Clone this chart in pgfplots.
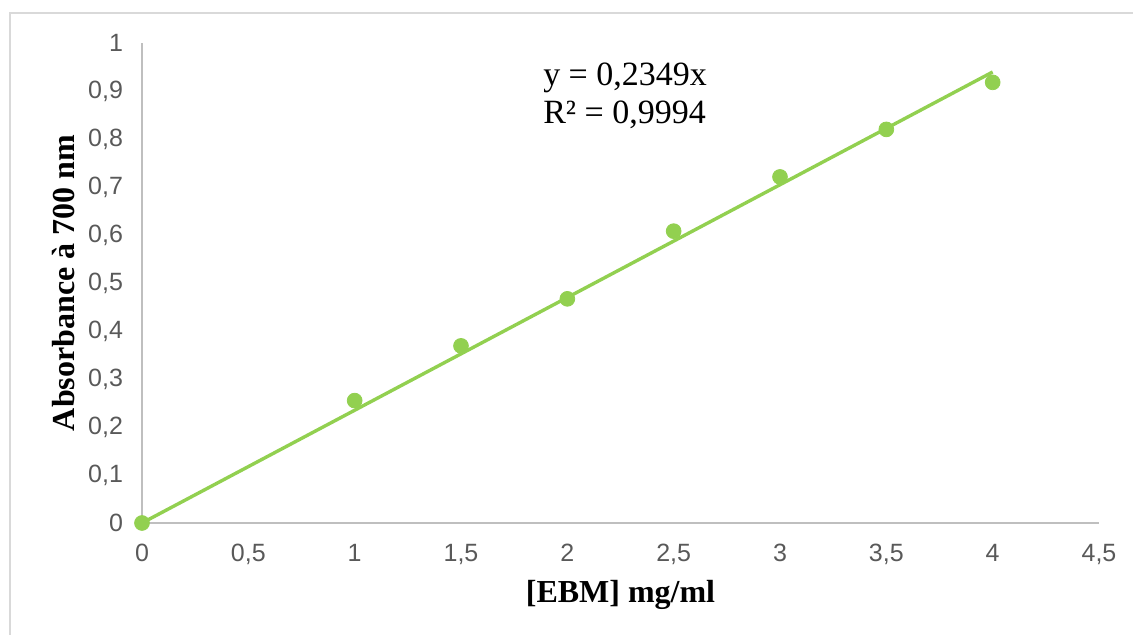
\documentclass[border=0pt]{standalone}
\usepackage{fontspec}
\setmainfont{Liberation Serif}
\newfontfamily\ticksfont{Liberation Sans}
\usepackage{pgfplots}
\pgfplotsset{compat=1.18}
\definecolor{xlgreen}{RGB}{146,208,80}
\definecolor{axgray}{RGB}{191,191,191}
\definecolor{tickgray}{RGB}{89,89,89}
\definecolor{bordergray}{RGB}{217,217,217}
\begin{document}
\begin{tikzpicture}
\useasboundingbox (0,0) rectangle (566.5pt,317.5pt);
\draw[bordergray, line width=0.9pt] (5pt,0pt) -- (5pt,311pt) -- (566.5pt,311pt);
\begin{axis}[
  at={(71pt,56pt)}, anchor=south west,
  scale only axis, width=478.5pt, height=240pt,
  xmin=0, xmax=4.5, ymin=0, ymax=1,
  axis lines=left,
  axis line style={axgray, line width=0.75pt, -},
  xtick={0,0.5,...,4.5},
  ytick={0,0.1,...,1},
  major tick length=0pt,
  tick label style={font=\ticksfont\fontsize{12.5}{14}\selectfont, text=tickgray},
  /pgf/number format/assume math mode=true,
  /pgf/number format/use comma,
  xticklabel style={yshift=-7pt},
  yticklabel style={xshift=-6pt},
  xlabel={\fontsize{16}{18}\selectfont\bfseries [EBM] mg/ml},
  ylabel={\fontsize{16}{18}\selectfont\bfseries Absorbance à 700 nm},
  xlabel style={at={(axis description cs:0.5,0)}, anchor=center, yshift=-36pt},
  ylabel style={at={(axis description cs:-0.0825,0.5)}, anchor=center},
  clip=false,
]
\addplot[xlgreen, line width=1.7pt] coordinates {(0,0) (4,0.9396)};
\addplot[only marks, mark=*, mark size=3.7pt, color=xlgreen, mark options={fill=xlgreen, draw=xlgreen}] coordinates {
(0,0) (1,0.255) (1.5,0.369) (2,0.467) (2.5,0.608) (3,0.721) (3.5,0.820) (4,0.918)};
\node[anchor=west, inner sep=0pt, font=\fontsize{17}{19}\selectfont] at (axis cs:1.885,0.928) {y = 0,2349x};
\node[anchor=west, inner sep=0pt, font=\fontsize{17}{19}\selectfont] at (axis cs:1.885,0.851) {R² = 0,9994};
\end{axis}
\end{tikzpicture}
\end{document}
